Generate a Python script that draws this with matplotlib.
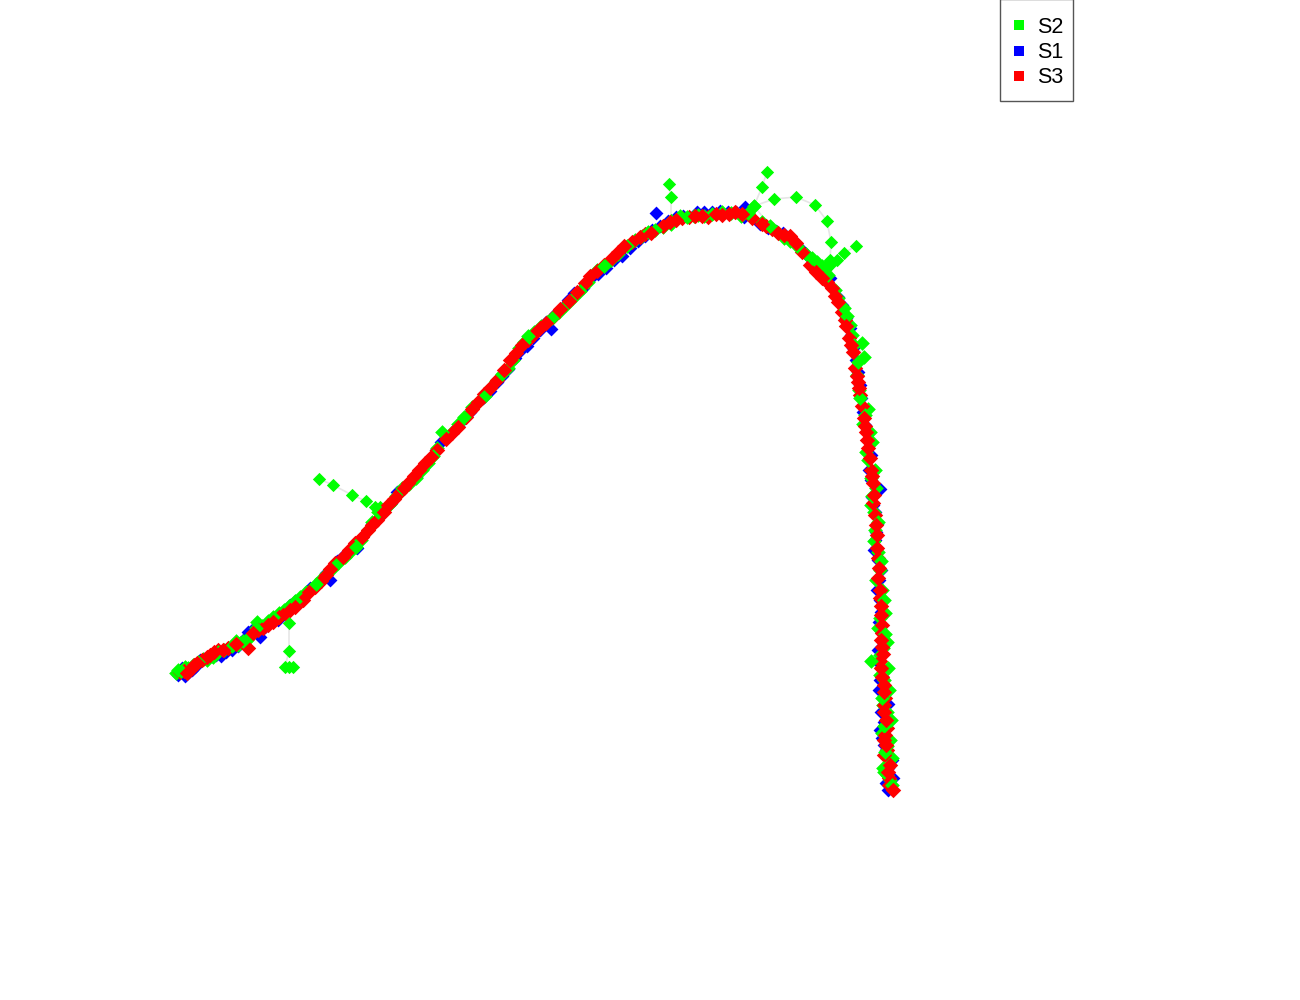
import matplotlib
matplotlib.use("Agg")
import matplotlib.pyplot as plt
from matplotlib.lines import Line2D
from matplotlib.patches import Rectangle

plt.rcParams['font.family'] = ['Liberation Sans', 'DejaVu Sans']

s1_points = [(178,675),(185,676),(188,672),(195,667),(204,659),(212,656),(221,656),(232,650),(245,638),(260,637),(252,630),(271,621),(284,612),(295,601),(303,596),(318,584),(330,580),(326,573),(343,556),(352,549),(363,536),(372,524),(380,516),(391,503),(402,490),(416,477),(429,459),(436,450),(446,438),(458,426),(470,412),(483,398),(497,382),(508,369),(520,351),(533,338),(551,329),(546,322),(562,308),(574,293),(590,279),(606,268),(622,256),(638,241),(656,213),(652,230),(668,221),(683,216),(697,212),(712,212),(728,212),(745,207),(744,217),(760,224),(776,231),(790,239),(802,250),(810,258),(818,268),(830,278),(838,297),(846,318),(851,335),(856,360),(860,385),(863,412),(867,440),(869,470),(880,489),(872,497),(875,512),(877,524),(875,540),(878,560),(879,580),(880,600),(879,622),(882,640),(878,662),(882,676),(879,690),(888,704),(884,722),(882,738),(886,750),(888,768),(893,778),(888,790)]
s1_extra = [(182,668),(192,670),(200,660),(216,655),(226,652),(238,646),(248,632),(265,627),(278,620),(290,605),(310,588),(337,561),(357,548),(375,522),(397,492),(410,482),(423,468),(441,442),(453,432),(465,418),(490,391),(502,376),(515,358),(527,346),(540,330),(555,314),(568,300),(583,288),(598,274),(614,260),(630,248),(645,236),(660,226),(676,217),(704,212),(720,211),(736,212),(768,228),(783,233),(796,243),(806,254),(824,274),(842,305),(850,328),(853,348),(858,372),(861,398),(865,425),(871,455),(871,480),(873,505),(876,532),(874,550),(881,570),(877,590),(881,612),(880,630),(878,650),(881,668),(880,680),(881,712),(880,730),(884,745),(892,760),(885,772),(886,783)]

s2_points = [(176,673),(181,671),(188,668),(193,665),(207,660),(213,657),(224,650),(232,646),(238,645),(243,641),(247,640),(256,628),(257,622),(268,621),(279,613),(289,606),(300,597),(311,589),(321,579),(332,569),(345,557),(356,547),(368,530),(378,512),(390,504),(402,488),(416,478),(428,463),(437,448),(442,432),(451,433),(464,417),(472,407),(485,396),(496,381),(508,368),(519,348),(528,336),(541,326),(552,318),(566,305),(580,291),(597,270),(604,266),(618,254),(627,246),(642,236),(655,230),(671,224),(680,216),(694,216),(704,216),(722,212),(741,216),(754,206),(770,226),(784,238),(797,246),(806,254),(817,262),(826,268),(830,262),(835,290),(844,308),(850,325),(854,345),(864,357),(862,343),(857,375),(860,398),(868,409),(863,424),(872,442),(868,460),(871,478),(872,496),(874,512),(875,530),(878,552),(880,570),(882,590),(885,613),(878,628),(887,642),(880,655),(871,661),(884,680),(882,698),(887,712),(884,726),(890,740),(885,752),(889,765),(884,772),(890,780)]
s2_extra = [(178,670),(185,667),(198,662),(203,659),(218,652),(228,648),(236,641),(240,643),(251,635),(262,626),(273,617),(284,610),(295,601),(306,592),(316,584),(326,574),(338,563),(350,552),(361,540),(372,522),(384,510),(396,496),(409,484),(422,470),(433,456),(458,424),(478,402),(490,388),(502,374),(513,360),(524,342),(534,332),(547,322),(559,312),(573,298),(588,282),(611,260),(635,240),(648,232),(663,227),(687,217),(698,215),(712,214),(731,213),(748,213),(762,222),(777,232),(790,241),(812,258),(822,266),(828,275),(838,298),(847,316),(852,335),(858,362),(859,390),(865,415),(870,432),(866,452),(875,470),(876,488),(871,505),(878,522),(874,541),(881,561),(876,580),(884,600),(880,618),(885,634),(883,648),(888,668),(880,675),(889,690),(883,705),(891,720),(882,733),(887,746),(892,758),(883,768),(887,775),(892,785)]

s2_spur_left = [(380,507),(375,507),(366,501),(352,495),(333,485),(319,479)]
s2_spur_low = [(289,623),(289,651),(285,667),(289,667),(293,667)]
s2_spur_top = [(671,220),(671,197),(669,184)]
s2_spur_peak = [(754,206),(762,187),(767,172)]
s2_spur_arc = [(754,206),(774,199),(796,197),(815,205),(827,221),(831,242),(830,260)]
s2_spur_right = [(830,265),(837,260),(844,253),(856,246)]

s3_points = [(180,672),(187,673),(191,669),(197,663),(202,660),(214,652),(218,650),(223,650),(248,648),(253,633),(263,628),(273,622),(285,613),(295,607),(315,587),(326,575),(335,563),(343,557),(355,543),(362,537),(377,520),(384,512),(400,492),(408,483),(419,470),(431,457),(452,433),(458,427),(466,417),(478,402),(484,394),(510,360),(516,353),(522,345),(533,335),(540,328),(553,317),(569,301),(585,283),(590,276),(604,265),(624,246),(632,242),(651,233),(663,226),(676,220),(689,217),(695,216),(708,217),(716,214),(729,214),(735,212),(752,218),(762,224),(766,226),(778,233),(790,236),(796,243),(810,265),(822,278),(832,288),(838,302),(842,312),(846,326),(849,338),(853,352),(855,368),(858,382),(860,395),(864,418),(866,432),(868,448),(871,470),(873,483),(873,503),(877,535),(877,548),(879,568),(880,590),(881,606),(882,625),(881,640),(883,654),(881,668),(882,677),(884,692),(884,705),(886,720),(885,735),(886,745),(884,755),(888,772),(889,778),(893,790)]
s3_extra = [(184,671),(194,665),(207,657),(210,655),(228,648),(236,644),(258,630),(268,625),(279,617),(290,610),(303,600),(309,592),(321,581),(330,569),(349,550),(368,530),(372,525),(388,505),(394,499),(404,488),(414,476),(425,463),(437,450),(446,439),(472,409),(490,388),(497,380),(504,370),(528,340),(546,323),(560,309),(577,292),(597,271),(612,258),(618,252),(640,237),(645,234),(670,222),(682,218),(702,216),(722,215),(742,214),(772,229),(784,235),(802,252),(816,272),(827,282),(835,296),(845,320),(851,345),(857,376),(859,388),(862,406),(865,426),(867,440),(870,458),(872,476),(874,495),(875,515),(876,525),(878,558),(878,578),(880,598),(881,615),(882,633),(882,647),(880,661),(884,685),(885,698),(884,712),(887,728),(884,740),(887,750),(890,765),(889,785)]

series_names = ["S2", "S1", "S3"]
series_colors = {"S2": "#00ff00", "S1": "#0000ff", "S3": "#ff0000"}

fig = plt.figure(figsize=(13, 10), dpi=100)
ax = fig.add_axes([0, 0, 1, 1])
ax.set_xlim(0, 1300)
ax.set_ylim(1000, 0)
ax.axis('off')


def xs(points):
    return [p[0] for p in points]


def ys(points):
    return [p[1] for p in points]


LINE = dict(color='#e6e6e6', lw=1.2, zorder=1)
SIZE_S1 = 50
SIZE_S2 = 56
SIZE_S3 = 62
SIZE_SPUR = 46

ax.plot(xs(s2_points), ys(s2_points), **LINE)
spurs = [s2_spur_left, s2_spur_low, s2_spur_top, s2_spur_peak, s2_spur_arc, s2_spur_right]
for spur in spurs:
    ax.plot(xs(spur), ys(spur), **LINE)
    ax.scatter(xs(spur), ys(spur), marker='D', s=SIZE_SPUR, c=series_colors["S2"], linewidths=0, zorder=3)

s1_all = s1_points + s1_extra
ax.scatter(xs(s1_all), ys(s1_all), marker='D', s=SIZE_S1, c=series_colors["S1"], linewidths=0, zorder=2)

s2_all = s2_points + s2_extra
under = [p for i, p in enumerate(s2_all) if i % 2 == 0]
over = [p for i, p in enumerate(s2_all) if i % 2 == 1]
s3_all = s3_points + s3_extra
first_red = [p for i, p in enumerate(s3_all) if i % 2 == 0]
second_red = [p for i, p in enumerate(s3_all) if i % 2 == 1]
ax.scatter(xs(under), ys(under), marker='D', s=SIZE_S2, c=series_colors["S2"], linewidths=0, zorder=3)
ax.scatter(xs(first_red), ys(first_red), marker='D', s=SIZE_S3, c=series_colors["S3"], linewidths=0, zorder=4)
ax.scatter(xs(over), ys(over), marker='D', s=SIZE_S2, c=series_colors["S2"], linewidths=0, zorder=5)
ax.scatter(xs(second_red), ys(second_red), marker='D', s=SIZE_S3, c=series_colors["S3"], linewidths=0, zorder=6)

ax.add_patch(Rectangle((1000, -1), 73, 102, facecolor='white', edgecolor='#555555', lw=1.0, zorder=7))
handles = [Line2D([], [], linestyle='none', marker='s', markersize=7.2,
                  markerfacecolor=series_colors[n], markeredgewidth=0, label=n)
           for n in series_names]
leg = ax.legend(handles=handles, loc='upper left',
                bbox_to_anchor=(1014 / 1300, 1 - 17 / 1000), bbox_transform=ax.transAxes,
                frameon=False, fontsize=15.5, borderaxespad=0, borderpad=0, labelspacing=0.19,
                handlelength=0.46, handletextpad=0.62)
leg.set_zorder(8)

fig.savefig('out.png', dpi=100, facecolor='white')
